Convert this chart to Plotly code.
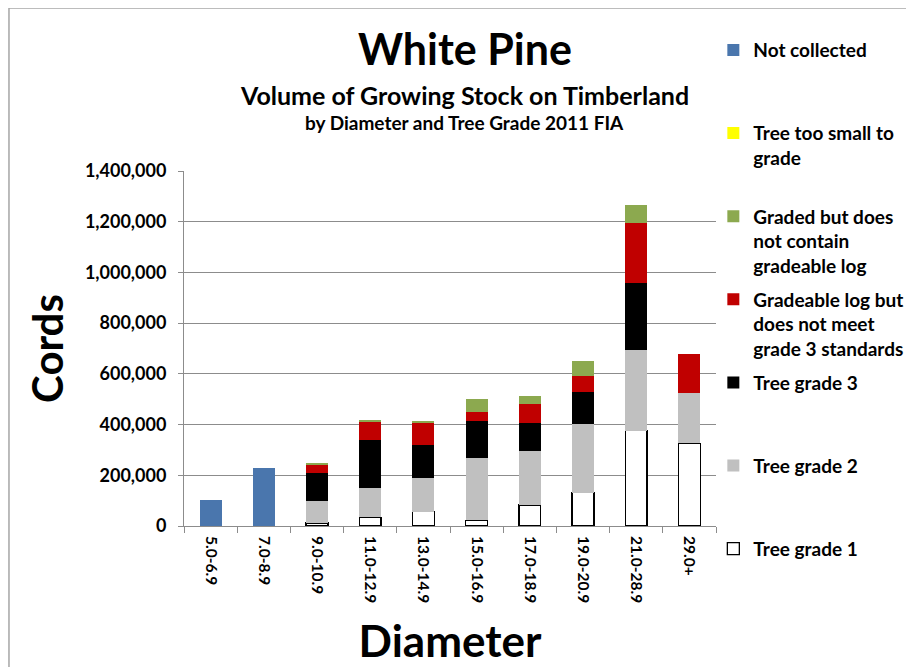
import plotly.graph_objects as go

# Diameter classes (inches)
categories = ["5.0-6.9", "7.0-8.9", "9.0-10.9", "11.0-12.9", "13.0-14.9",
              "15.0-16.9", "17.0-18.9", "19.0-20.9", "21.0-28.9", "29.0+"]

# Cords per tree-grade class (stack segments)
tree_grade_1 = [None, None, 12000, 34000, 56000, 22000, 83000, 131000, 376000, 326000]
tree_grade_2 = [None, None, 85000, 115000, 135000, 248000, 212000, 272000, 319000, 200000]
tree_grade_3 = [None, None, 112000, 190000, 129000, 144000, 111000, 126000, 264000, None]
gradeable_no_std = [None, None, 32000, 72000, 85000, 37000, 76000, 63000, 235000, 154000]
graded_no_log = [None, None, 5000, 8000, 10000, 51000, 29000, 60000, 70000, None]
too_small = [None] * 10
not_collected = [102000, 227000, None, None, None, None, None, None, None, None]

FONT = "Lato"


def pad(label, lines=3):
  # pad legend labels to the same number of lines so items space evenly
  n = label.count("<br>") + 1
  return label + "<br> " * (lines - n)


# bottom of the stack first; rank = position in the legend
series = [
  ("Tree grade 1", tree_grade_1, "#FFFFFF", 7),
  ("Tree grade 2", tree_grade_2, "#C0C0C0", 6),
  ("Tree grade 3", tree_grade_3, "#000000", 5),
  ("Gradeable log but<br>does not meet<br>grade 3 standards", gradeable_no_std, "#C00000", 4),
  ("Graded but does<br>not contain<br>gradeable log", graded_no_log, "#8CA94F", 3),
  ("Tree too small to<br>grade", too_small, "#FFFF00", 2),
  ("Not collected", not_collected, "#4A76AD", 1),
]

fig = go.Figure()
for name, vals, color, rank in series:
  outline = dict(color="#000000", width=1.3) if name == "Tree grade 1" else dict(width=0)
  fig.add_trace(go.Bar(
    x=categories, y=vals, name=pad(name),
    marker=dict(color=color, line=outline),
    legendgroup=name, legendrank=rank,
  ))

# page body has an 8px margin, so the figure is sized to fit inside the window
fig.update_layout(
  barmode="stack",
  bargap=0.59,
  width=906, height=659,
  margin=dict(l=176, r=198, t=163, b=141, autoexpand=False),
  paper_bgcolor="white", plot_bgcolor="white",
  font=dict(family=FONT, color="#000000"),
  showlegend=True,
  legend=dict(
    x=0.995, y=1.394, xanchor="left", yanchor="top",
    traceorder="grouped", tracegroupgap=6,
    valign="top", maxheight=1.0,
    font=dict(family=FONT, size=19, color="#000000", weight="bold"),
    bgcolor="rgba(0,0,0,0)",
  ),
)

fig.update_yaxes(
  range=[0, 1400000], dtick=200000, tickformat=",",
  showgrid=True, gridcolor="#8C8C8C", gridwidth=1,
  showline=True, linecolor="#8C8C8C", linewidth=1,
  ticks="outside", ticklen=5, tickcolor="#8C8C8C", ticklabelstandoff=8,
  tickfont=dict(family=FONT, size=18, weight="bold"),
  title=dict(text="Cords", font=dict(family=FONT, size=42, weight="bold"), standoff=8),
  zeroline=False, automargin=False,
)
fig.update_xaxes(
  type="category",
  showline=True, linecolor="#8C8C8C", linewidth=1,
  ticks="outside", ticklen=6, tickcolor="#8C8C8C", tickson="boundaries",
  tickangle=90, ticklabelstandoff=6,
  tickfont=dict(family=FONT, size=15.5, weight="bold"),
  title=dict(text="Diameter", font=dict(family=FONT, size=44, weight="bold"), standoff=24),
  automargin=False,
)

# titles
fig.add_annotation(text="White Pine", x=0.528, y=1.346, xref="paper", yref="paper",
                   xanchor="center", yanchor="middle", showarrow=False,
                   font=dict(family=FONT, size=43, weight="bold"))
fig.add_annotation(text="Volume of Growing Stock on Timberland", x=0.528, y=1.214,
                   xref="paper", yref="paper", xanchor="center", yanchor="middle",
                   showarrow=False, font=dict(family=FONT, size=25, weight="bold"))
fig.add_annotation(text="by Diameter and Tree Grade 2011 FIA", x=0.528, y=1.138,
                   xref="paper", yref="paper", xanchor="center", yanchor="middle",
                   showarrow=False, font=dict(family=FONT, size=19, weight="bold"))

# chart-area frame
fig.add_shape(type="rect", xref="paper", yref="paper",
              x0=-0.329, y0=-1.0, x1=1.6, y1=1.459,
              line=dict(color="#A6A6A6", width=1.5), layer="below")

fig.write_html("out.html")
